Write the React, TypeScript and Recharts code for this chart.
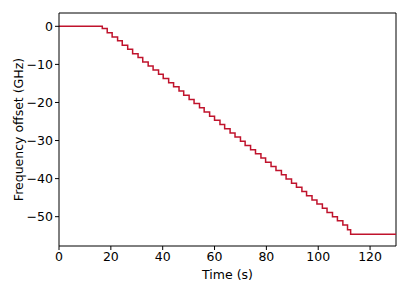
import React from "react";
import { LineChart, Line, XAxis, YAxis, ReferenceLine } from "recharts";

const times = [
  0, 16.7, 18.6, 20.5, 22.6, 24.4, 26.5, 28.4, 30.5, 32.3, 34.4, 36.3, 38.4, 40.2, 42.3, 44.2, 46.3,
  48.1, 50.2, 52.1, 54.2, 56.0, 58.1, 60.0, 62.1, 63.9, 66.0, 67.9, 70.0, 71.8, 73.9, 75.8, 77.9,
  79.7, 81.8, 83.7, 85.8, 87.6, 89.7, 91.6, 93.7, 95.5, 97.6, 99.5, 101.6, 103.4, 105.5, 107.4,
  109.5, 111.3, 112.5, 130,
];
const offsets = [
  0, -0.6, -1.7, -2.8, -3.8, -5.0, -6.0, -7.2, -8.2, -9.4, -10.4, -11.5, -12.6, -13.7, -14.8, -15.9,
  -17.0, -18.1, -19.2, -20.3, -21.4, -22.5, -23.6, -24.7, -25.8, -26.9, -28.0, -29.1, -30.2, -31.3,
  -32.4, -33.5, -34.6, -35.7, -36.8, -37.9, -39.0, -40.1, -41.2, -42.3, -43.4, -44.5, -45.6, -46.7,
  -47.8, -48.9, -50.0, -51.1, -52.2, -53.4, -54.6, -54.5,
];
const xTicks = [0, 20, 40, 60, 80, 100, 120];
const yTicks = [0, -10, -20, -30, -40, -50];
const xDomain: [number, number] = [0, 130];
const yDomain: [number, number] = [-57.7, 3.5];

const data = times.map((t, i) => ({ t, v: offsets[i] }));

const font = "DejaVu Sans";
const fs = 12.5;
const fmt = (v: number) => (v < 0 ? "\u2212" + Math.abs(v) : String(v));

export default function App() {
  return (
    <div style={{ position: "absolute", left: 0, top: 0, background: "#fff" }}>
      <LineChart
        width={409}
        height={292}
        data={data}
        margin={{ top: 13, right: 13, bottom: 0, left: 0 }}
      >
        <XAxis
          dataKey="t"
          type="number"
          domain={xDomain}
          ticks={xTicks}
          allowDataOverflow
          height={46}
          tickSize={4}
          tickMargin={2}
          stroke="#000"
          tick={{ fill: "#000", fontSize: fs, fontFamily: font }}
          tickLine={{ stroke: "#000" }}
          axisLine={{ stroke: "#000" }}
          label={{
            value: "Time (s)",
            position: "insideBottom",
            offset: 13,
            fill: "#000",
            fontSize: fs,
            fontFamily: font,
          }}
        />
        <YAxis
          type="number"
          domain={yDomain}
          ticks={yTicks}
          allowDataOverflow
          width={59}
          tickSize={4}
          tickMargin={2}
          tickFormatter={fmt}
          stroke="#000"
          tick={{ fill: "#000", fontSize: fs, fontFamily: font }}
          tickLine={{ stroke: "#000" }}
          axisLine={{ stroke: "#000" }}
          label={{
            value: "Frequency offset (GHz)",
            angle: -90,
            position: "center",
            dx: -11,
            fill: "#000",
            fontSize: fs,
            fontFamily: font,
          }}
        />
        <ReferenceLine y={yDomain[1]} stroke="#000" strokeWidth={1} ifOverflow="visible" />
        <ReferenceLine x={xDomain[1]} stroke="#000" strokeWidth={1} ifOverflow="visible" />
        <Line
          type="stepAfter"
          dataKey="v"
          stroke="#c0132c"
          strokeWidth={1.5}
          dot={false}
          isAnimationActive={false}
        />
      </LineChart>
    </div>
  );
}
